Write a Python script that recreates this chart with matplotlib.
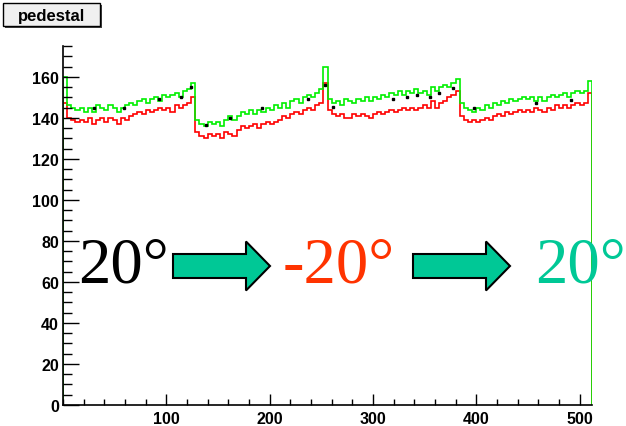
import numpy as np
import matplotlib
matplotlib.use("Agg")
import matplotlib.pyplot as plt
from matplotlib.ticker import MultipleLocator
from matplotlib.patches import FancyArrow, Rectangle

# pedestal per channel, 4-channel bins (0..511), four 128-channel groups
green = [160, 146, 145, 144, 145, 143, 145, 143, 146, 145, 144, 146, 145, 143, 145, 146,
         147, 146, 148, 149, 147, 149, 150, 148, 151, 150, 151, 152, 150, 153, 154, 157,
         139, 137, 136, 138, 137, 138, 136, 139, 141, 139, 141, 143, 142, 144, 142, 144,
         143, 145, 144, 146, 145, 147, 145, 148, 149, 147, 150, 151, 150, 152, 154, 165,
         149, 147, 148, 146, 149, 148, 147, 149, 148, 150, 148, 150, 149, 151, 150, 152,
         151, 153, 151, 153, 152, 154, 152, 153, 151, 155, 153, 155, 156, 155, 157, 159,
         147, 145, 144, 143, 145, 144, 146, 145, 147, 146, 148, 147, 149, 148, 149, 150,
         149, 150, 148, 150, 148, 150, 151, 150, 151, 152, 150, 152, 153, 152, 153, 158]

red = [147, 140, 139, 138, 139, 138, 140, 137, 139, 140, 138, 140, 139, 137, 140, 139,
       141, 142, 143, 142, 144, 143, 144, 145, 144, 145, 143, 146, 145, 146, 147, 150,
       133, 131, 130, 132, 131, 132, 130, 133, 132, 131, 134, 136, 135, 136, 137, 135,
       137, 138, 137, 138, 139, 141, 140, 142, 143, 142, 144, 145, 144, 146, 147, 157,
       144, 142, 141, 142, 140, 140, 142, 141, 142, 141, 140, 142, 143, 142, 143, 144,
       143, 144, 145, 144, 145, 144, 145, 146, 145, 148, 145, 147, 148, 150, 151, 153,
       141, 139, 138, 139, 138, 139, 140, 139, 141, 142, 141, 143, 142, 143, 144, 143,
       144, 143, 145, 144, 143, 145, 144, 146, 145, 146, 145, 146, 147, 146, 147, 152]

# the third (black) histogram, only visible in a few places
black_ch = [30, 59, 93, 114, 124, 138, 162, 193, 237, 254, 261, 319, 333, 343, 355, 364, 377, 398, 458, 492]
black_val = [145, 145, 149, 150, 155, 136.5, 140, 145, 149, 156, 145.5, 149, 150, 151, 150, 152, 154.6, 145, 147, 148.6]

edges = np.arange(0, 513, 4)

fig = plt.figure(figsize=(6.26, 4.27), dpi=100)
ax = fig.add_axes([63 / 626, 1 - 406 / 427, (592 - 63) / 626, (406 - 47) / 427])

ax.stairs(red, edges, color="#ff0000", lw=1.2)
ax.stairs(green, edges, color="#00f000", lw=1.2)
ax.plot(black_ch, black_val, ls="none", marker="s", ms=2, color="black")

ax.set_xlim(0, 512)
ax.set_ylim(0, 175)
ax.set_xticks([100, 200, 300, 400, 500])
ax.set_yticks(np.arange(0, 161, 20))
ax.xaxis.set_minor_locator(MultipleLocator(20))
ax.yaxis.set_minor_locator(MultipleLocator(5))
ax.tick_params(axis="y", which="major", direction="in", length=11.5, width=1, pad=3)
ax.tick_params(axis="y", which="minor", direction="in", length=6.5, width=1)
ax.tick_params(axis="x", which="major", direction="in", length=8, width=1, pad=4)
ax.tick_params(axis="x", which="minor", direction="in", length=4.5, width=1)
for lab in ax.get_xticklabels() + ax.get_yticklabels():
    lab.set_fontfamily("Liberation Sans")
    lab.set_fontweight("bold")
    lab.set_fontsize(11.5)
ax.spines["top"].set_visible(False)
ax.spines["right"].set_visible(False)
ax.spines["left"].set_linewidth(1.2)
ax.spines["bottom"].set_linewidth(1.2)

# overlay in pixel coords for the slide annotations
ov = fig.add_axes([0, 0, 1, 1])
ov.set_xlim(0, 626)
ov.set_ylim(427, 0)
ov.axis("off")

# title box
ov.add_patch(Rectangle((5, 6), 97, 23, fc="#444444", ec="none"))
ov.add_patch(Rectangle((3, 4), 97, 23, fc="#f0f0f0", ec="black", lw=1))
ov.text(51.5, 16, "pedestal", ha="center", va="center", fontsize=12,
        fontweight="bold", family="Liberation Sans")

teal = "#00c896"
serif = "Liberation Serif"
ov.text(78, 283, "20°", color="black", fontsize=46.5, family=serif, ha="left", va="baseline")
ov.text(283, 283, "-20°", color="#ff3300", fontsize=46.5, family=serif, ha="left", va="baseline")
ov.text(535, 283, "20°", color=teal, fontsize=46.5, family=serif, ha="left", va="baseline")

for x0 in [173, 413]:
    ov.add_patch(FancyArrow(x0, 267, 97, 0, width=24, head_width=49, head_length=24,
                            length_includes_head=True, fc=teal, ec="black", lw=1.5))

fig.savefig("out.png", dpi=100)
